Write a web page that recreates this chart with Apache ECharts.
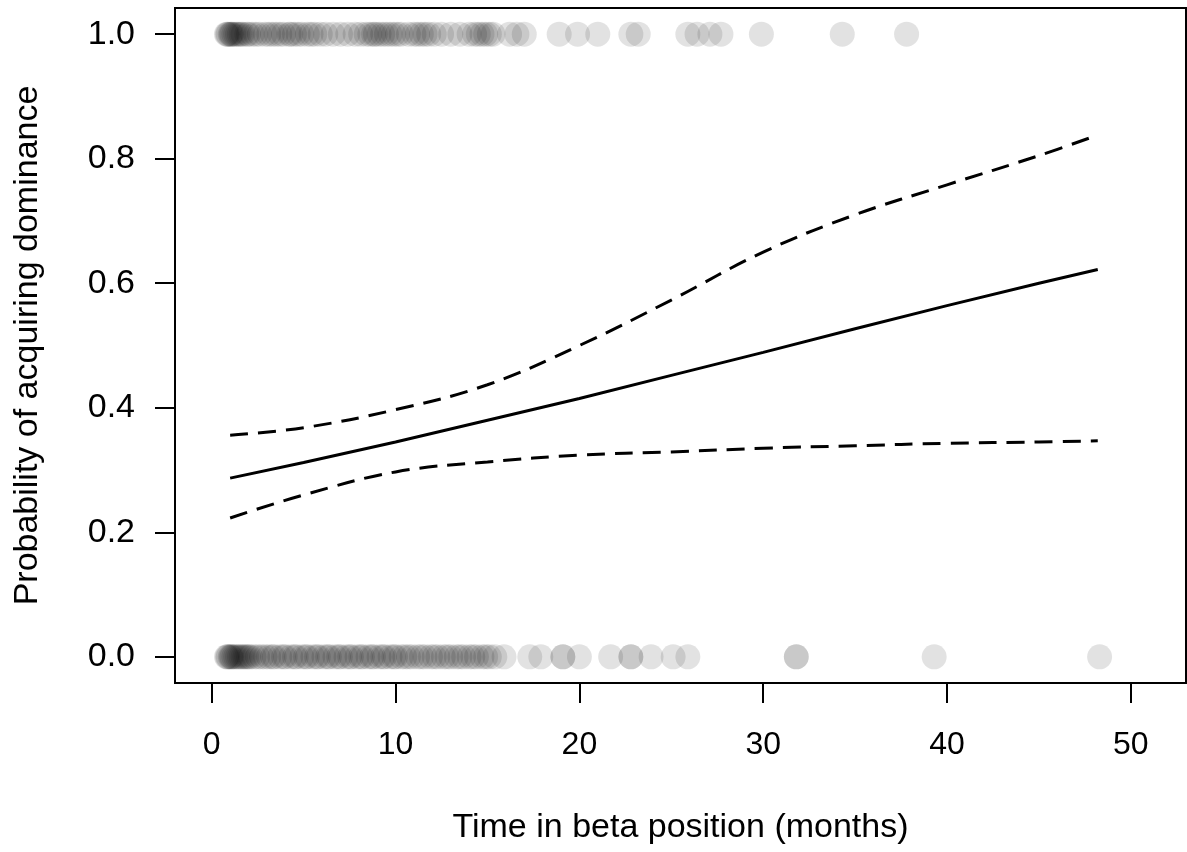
<!DOCTYPE html>
<html>
<head>
<meta charset="utf-8">
<script src="https://cdn.jsdelivr.net/npm/echarts@6/dist/echarts.min.js"></script>
<style>
  html, body { margin: 0; padding: 0; background: #fff; }
  #chart { width: 1187px; height: 852px; }
</style>
</head>
<body>
<div id="chart"></div>
<script>
// observed outcomes: time in beta position (months) for each male
const acquired = [0.8, 0.85, 0.9, 1.0, 1.05, 1.1, 1.2, 1.3, 1.4, 1.5, 1.6, 1.7, 1.9, 2.0,
  2.2, 2.4, 2.6, 2.9, 3.1, 3.3, 3.5, 3.7, 3.9, 4.2, 4.3, 4.5, 4.7, 4.9, 5.2, 5.4, 5.6, 5.9,
  6.2, 6.6, 7.0, 7.4, 7.8, 8.1, 8.4, 8.6, 8.8, 8.9, 9.1, 9.3, 9.5, 9.7, 9.9, 10.1, 10.3,
  10.7, 11.0, 11.2, 11.4, 11.6, 11.8, 12.1, 12.5, 13.0, 13.5, 14.0, 14.3, 14.5, 14.7, 14.9,
  15.1, 15.3, 16.2, 16.6, 17.0, 18.9, 19.9, 21.0, 22.8, 23.2, 25.9, 26.4, 27.1, 27.7, 29.9,
  34.3, 37.8];
const notAcquired = [0.8, 0.85, 0.9, 1.0, 1.05, 1.1, 1.2, 1.3, 1.4, 1.5, 1.6, 1.7, 1.8, 1.9,
  2.0, 2.1, 2.3, 2.5, 2.7, 2.9, 3.1, 3.3, 3.4, 3.7, 3.9, 4.0, 4.3, 4.5, 4.6, 4.9, 5.1, 5.2,
  5.5, 5.7, 5.8, 6.1, 6.3, 6.4, 6.7, 6.9, 7.0, 7.3, 7.5, 7.6, 7.9, 8.1, 8.2, 8.5, 8.7, 8.8,
  9.1, 9.3, 9.4, 9.7, 9.9, 10.0, 10.3, 10.5, 10.7, 10.9, 11.2, 11.4, 11.6, 11.9, 12.1, 12.3,
  12.6, 12.8, 13.0, 13.3, 13.5, 13.7, 14.0, 14.2, 14.4, 14.7, 14.9, 15.1, 15.4, 15.9, 17.3,
  17.9, 19.1, 19.1, 20.0, 21.7, 22.8, 22.8, 23.9, 25.1, 25.9, 31.8, 31.8, 39.3, 48.3];

// fitted curve and confidence band
const curveX = [1, 5, 10, 15, 20, 25, 30, 35, 40, 45, 48.2];
const fitted = [0.287, 0.312, 0.345, 0.380, 0.415, 0.452, 0.489, 0.527, 0.564, 0.600, 0.622];
const upperCI = [0.356, 0.368, 0.397, 0.437, 0.500, 0.573, 0.650, 0.710, 0.758, 0.805, 0.838];
const lowerCI = [0.223, 0.260, 0.297, 0.313, 0.324, 0.329, 0.335, 0.339, 0.343, 0.345, 0.347];

const xTicks = [0, 10, 20, 30, 40, 50];
const yTicks = [0, 0.2, 0.4, 0.6, 0.8, 1.0];

const font = "'Liberation Sans', Arial, sans-serif";
const pts = (xs, y) => xs.map(x => [x, y]);
const pairs = (ys) => curveX.map((x, i) => [x, ys[i]]);

const chart = echarts.init(document.getElementById("chart"));
const option = {
  animation: false,
  grid: {
    left: 175, right: 1, top: 8, bottom: 169,
    show: true, borderColor: "#000", borderWidth: 2, backgroundColor: "transparent"
  },
  xAxis: {
    type: "value", min: -2, max: 53,
    name: "Time in beta position (months)",
    nameLocation: "middle", nameGap: 128,
    nameTextStyle: { color: "#000", fontSize: 34, fontFamily: font },
    splitLine: { show: false },
    axisLine: { show: true, onZero: false, lineStyle: { color: "#000", width: 2 } },
    axisTick: { show: true, length: 20, customValues: xTicks, lineStyle: { color: "#000", width: 2 } },
    axisLabel: { customValues: xTicks, margin: 46, color: "#000", fontSize: 32, fontFamily: font }
  },
  yAxis: {
    type: "value", min: -0.042, max: 1.042,
    name: "Probability of acquiring dominance",
    nameLocation: "middle", nameGap: 130,
    nameTextStyle: { color: "#000", fontSize: 34, fontFamily: font },
    splitLine: { show: false },
    axisLine: { show: true, onZero: false, lineStyle: { color: "#000", width: 2 } },
    axisTick: { show: true, length: 20, customValues: yTicks, lineStyle: { color: "#000", width: 2 } },
    axisLabel: {
      customValues: yTicks, margin: 40, color: "#000", fontSize: 34, fontFamily: font,
      formatter: v => v.toFixed(1)
    }
  },
  series: [
    {
      type: "scatter", data: pts(notAcquired, 0), symbolSize: 25,
      itemStyle: { color: "rgba(0,0,0,0.14)" }
    },
    {
      type: "scatter", data: pts(acquired, 1), symbolSize: 25,
      itemStyle: { color: "rgba(0,0,0,0.14)" }
    },
    {
      type: "line", data: pairs(fitted), smooth: false, showSymbol: false,
      lineStyle: { color: "#000", width: 3 }
    },
    {
      type: "line", data: pairs(upperCI), smooth: 0.4, showSymbol: false,
      lineStyle: { color: "#000", width: 3, type: [18, 10] }
    },
    {
      type: "line", data: pairs(lowerCI), smooth: 0.4, showSymbol: false,
      lineStyle: { color: "#000", width: 3, type: [18, 10] }
    }
  ]
};
chart.setOption(option);
</script>
</body>
</html>
